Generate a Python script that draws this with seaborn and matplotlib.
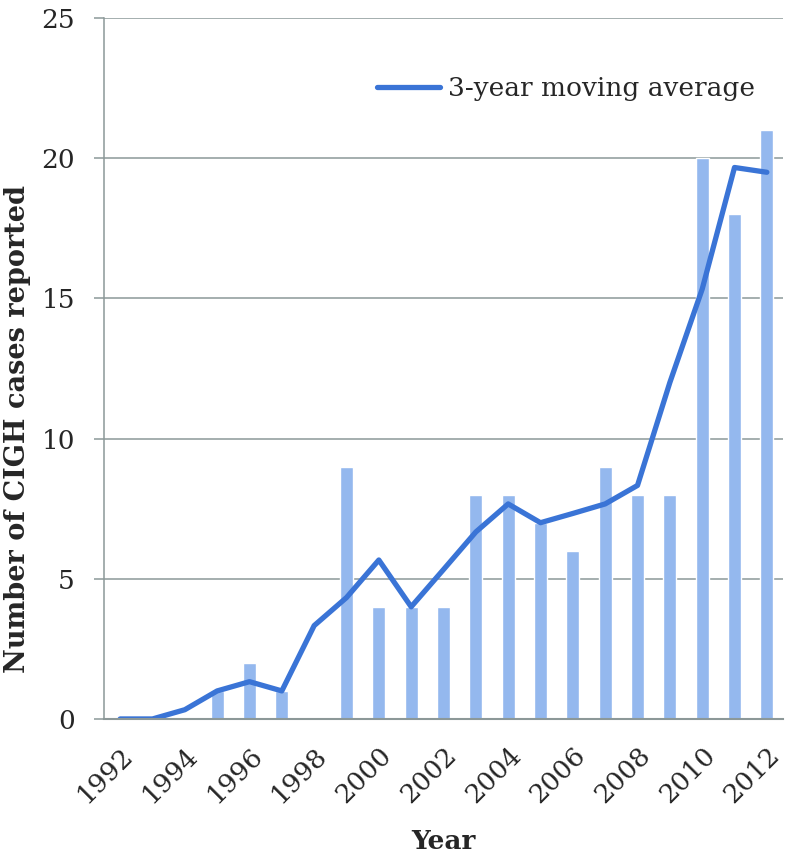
import pandas as pd
import matplotlib
matplotlib.use('Agg')
import matplotlib.pyplot as plt
import seaborn as sns

# data
years = list(range(1992, 2013))
cases = [0, 0, 0, 1, 2, 1, 0, 9, 4, 4, 4, 8, 8, 7, 6, 9, 8, 8, 20, 18, 21]
moving_avg = [0, 0, 0.33, 1, 1.33, 1, 3.33, 4.33, 5.67, 4, 5.33, 6.67, 7.67,
              7, 7.33, 7.67, 8.33, 12, 15.33, 19.67, 19.5]
year_ticks = list(range(1992, 2013, 2))

df = pd.DataFrame({'year': years, 'cases': cases, 'avg': moving_avg})

sns.set_style('white')
plt.rcParams['font.family'] = ['DejaVu Serif']

grid_col = '#8c9898'
fig = plt.figure(figsize=(7.86, 8.6), dpi=100)
ax = fig.add_axes([0.1323, 0.164, 0.8639, 0.815])

sns.barplot(data=df, x='year', y='cases', native_scale=True, width=0.41,
            color='#94b8ee', saturation=1, ax=ax)
sns.lineplot(data=df, x='year', y='avg', color='#3a74d6', linewidth=3.8,
             solid_capstyle='round', label='3-year moving average', ax=ax)

ax.set_xlim(1991.5, 2012.5)
ax.set_ylim(0, 25)
ax.set_yticks([0, 5, 10, 15, 20, 25])
ax.set_xticks(year_ticks)
ax.set_xticklabels([str(y) for y in year_ticks], rotation=45, ha='right',
                   rotation_mode='anchor', fontsize=19)
ax.tick_params(axis='y', labelsize=19, length=7, width=1.1, color=grid_col, pad=14, left=True)
ax.tick_params(axis='x', length=0, pad=17)
ax.yaxis.grid(True, color=grid_col, linewidth=1.1)
ax.set_axisbelow(True)

for s in ['top', 'right']:
    ax.spines[s].set_visible(False)
ax.spines['left'].set_color(grid_col)
ax.spines['left'].set_linewidth(1.1)
ax.spines['bottom'].set_color(grid_col)
ax.spines['bottom'].set_linewidth(1.5)

ax.set_xlabel('Year', fontsize=19, fontweight='bold')
ax.xaxis.set_label_coords(0.5, -0.157)
ax.set_ylabel('Number of CIGH cases reported', fontsize=19.5, fontweight='bold')
ax.yaxis.set_label_coords(-0.108, 0.414)

ax.legend(loc='center left', bbox_to_anchor=(0.402, 0.899), frameon=False,
          fontsize=19, handlelength=2.4, handletextpad=0.3, borderpad=0,
          borderaxespad=0)

fig.savefig('out.png', dpi=100)
